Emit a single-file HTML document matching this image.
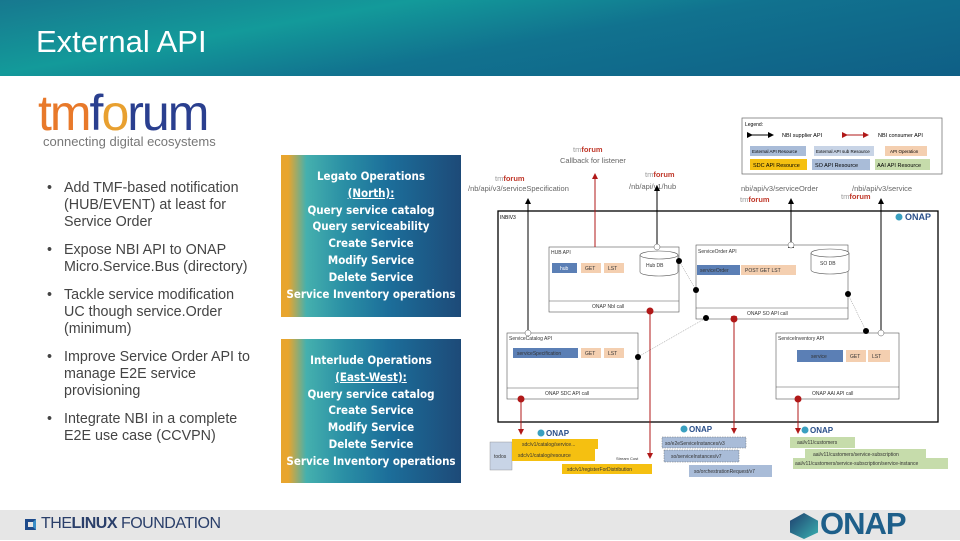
<!DOCTYPE html>
<html><head><meta charset="utf-8"><style>
*{margin:0;padding:0;box-sizing:border-box}
body{width:960px;height:540px;overflow:hidden;background:#fff;font-family:"Liberation Sans",sans-serif;position:relative}
.hdr{position:absolute;left:0;top:0;width:960px;height:76px;background:linear-gradient(170deg,#17788f 0%,#139a9a 30%,#11728f 55%,#0f5f86 100%)}
.hdr h1{position:absolute;left:36px;top:24px;font-weight:normal;color:#fff;font-size:31px}
.foot{position:absolute;left:0;top:510px;width:960px;height:30px;background:#e6e6e6}
ul{position:absolute;left:47px;top:180px;width:240px;list-style:none;font-size:14.3px;color:#444;line-height:17px;white-space:nowrap}
li{padding-left:17px;position:relative;margin-bottom:11px}
li:before{content:"•";position:absolute;left:0}
.gb{position:absolute;left:281px;width:180px;background:linear-gradient(90deg,#e8a52e 0%,#e8a52e 4%,#45b0ae 14%,#2a8fa5 35%,#1c6e9a 60%,#1d4a78 100%);color:#fff;font-family:"DejaVu Sans Condensed","Liberation Sans",sans-serif;font-weight:bold;font-size:11.5px;text-align:center;line-height:16.8px}
</style></head><body>
<div class="hdr"><h1>External API</h1></div>
<div style="position:absolute;left:38px;top:88px;font-size:50px;letter-spacing:-2px;line-height:50px"><span style="color:#e8792a">tm</span><span style="color:#2a3f8f">f<span style="color:#e8a030">o</span>rum</span></div>
<div style="position:absolute;left:43px;top:134px;font-size:13px;color:#777">connecting digital ecosystems</div>
<ul>
<li>Add TMF-based notification<br>(HUB/EVENT) at least for<br>Service Order</li>
<li>Expose NBI API to ONAP<br>Micro.Service.Bus (directory)</li>
<li>Tackle service modification<br>UC though service.Order<br>(minimum)</li>
<li>Improve Service Order API to<br>manage E2E service<br>provisioning</li>
<li>Integrate NBI in a complete<br>E2E use case (CCVPN)</li>
</ul>
<div class="gb" style="top:155px;height:162px;padding-top:13px">Legato Operations<br><u>(North):</u><br>Query service catalog<br>Query serviceability<br>Create Service<br>Modify Service<br>Delete Service<br>Service Inventory operations</div>
<div class="gb" style="top:339px;height:144px;padding-top:13px">Interlude Operations<br><u>(East-West):</u><br>Query service catalog<br>Create Service<br>Modify Service<br>Delete Service<br>Service Inventory operations</div>

<svg style="position:absolute;left:0;top:0" width="960" height="540" font-family="Liberation Sans,sans-serif">
<defs>
<marker id="ab" markerWidth="6" markerHeight="6" refX="5" refY="3" orient="auto"><path d="M0,0L6,3L0,6z" fill="#000"/></marker>
<marker id="ar" markerWidth="6" markerHeight="6" refX="5" refY="3" orient="auto"><path d="M0,0L6,3L0,6z" fill="#b01818"/></marker>
</defs>
<rect x="742" y="118" width="200" height="56" fill="#fff" stroke="#666" stroke-width="0.7"/>
<text x="745" y="126" font-size="5">Legend:</text>
<line x1="752" y1="135" x2="773" y2="135" stroke="#000" marker-end="url(#ab)" marker-start="url(#ab)"/>
<text x="782" y="137" font-size="5.5">NBI supplier API</text>
<line x1="847" y1="135" x2="868" y2="135" stroke="#b01818" marker-end="url(#ar)" marker-start="url(#ar)"/>
<text x="878" y="137" font-size="5.5">NBI consumer API</text>
<rect x="750" y="146" width="56" height="10" fill="#a9bcd8"/><text x="752" y="153" font-size="4.5">External API Resource</text>
<rect x="814" y="146" width="60" height="10" fill="#c8d4e6"/><text x="816" y="153" font-size="4.5">External API sub Resource</text>
<rect x="885" y="146" width="42" height="10" fill="#f4cfb0"/><text x="890" y="153" font-size="4.5">API Operation</text>
<rect x="750" y="159" width="57" height="11" fill="#f5c011"/><text x="753" y="167" font-size="5.5">SDC API Resource</text>
<rect x="812" y="159" width="58" height="11" fill="#a9bcd8"/><text x="815" y="167" font-size="5.5">SO API Resource</text>
<rect x="875" y="159" width="55" height="11" fill="#c6dcab"/><text x="877" y="167" font-size="5.5">AAI API Resource</text>
<g font-size="7.5" fill="#666">
<text x="495" y="181"><tspan fill="#999">tm</tspan><tspan fill="#c0392b" font-weight="bold">forum</tspan></text>
<text x="468" y="191">/nb/api/v3/serviceSpecification</text>
<text x="573" y="152"><tspan fill="#999">tm</tspan><tspan fill="#c0392b" font-weight="bold">forum</tspan></text>
<text x="560" y="163">Callback for listener</text>
<text x="645" y="177"><tspan fill="#999">tm</tspan><tspan fill="#c0392b" font-weight="bold">forum</tspan></text>
<text x="629" y="189">/nb/api/v1/hub</text>
<text x="741" y="191">nbi/api/v3/serviceOrder</text>
<text x="740" y="202"><tspan fill="#999">tm</tspan><tspan fill="#c0392b" font-weight="bold">forum</tspan></text>
<text x="852" y="191">/nbi/api/v3/service</text>
<text x="841" y="199"><tspan fill="#999">tm</tspan><tspan fill="#c0392b" font-weight="bold">forum</tspan></text>
</g>
<rect x="498" y="211" width="440" height="211" fill="none" stroke="#000" stroke-width="1.3"/>
<text x="500" y="219" font-size="5">INBIV3</text>
<text x="905" y="220" font-size="9" fill="#2a4f8a" font-weight="bold">ONAP</text><circle cx="899" cy="217" r="3.5" fill="#3aa0c0"/>
<g font-size="5" fill="#333">
<rect x="549" y="247" width="130" height="65" fill="#fff" stroke="#555" stroke-width="0.6"/><line x1="549" y1="301" x2="679" y2="301" stroke="#555" stroke-width="0.6"/>
<text x="551" y="254">HUB API</text><text x="592" y="308">ONAP NbI call</text>
<rect x="552" y="263" width="25" height="10" fill="#5b7fb5"/><text x="560" y="270" fill="#fff">hub</text>
<rect x="581" y="263" width="20" height="10" fill="#f4cfb0"/><text x="585" y="270">GET</text>
<rect x="604" y="263" width="20" height="10" fill="#f4cfb0"/><text x="608" y="270">LST</text>
<path d="M640,255v17a19,4 0 0 0 38,0v-17" fill="#fff" stroke="#555" stroke-width="0.6"/><ellipse cx="659" cy="255" rx="19" ry="4" fill="#fff" stroke="#555" stroke-width="0.6"/><text x="646" y="267">Hub DB</text>
<rect x="696" y="245" width="152" height="74" fill="#fff" stroke="#555" stroke-width="0.6"/><line x1="696" y1="308" x2="848" y2="308" stroke="#555" stroke-width="0.6"/>
<text x="698" y="253">ServiceOrder API</text><text x="747" y="315">ONAP SO API call</text>
<rect x="697" y="265" width="43" height="10" fill="#5b7fb5"/><text x="700" y="272">serviceOrder</text>
<rect x="741" y="265" width="55" height="10" fill="#f4cfb0"/><text x="745" y="272">POST   GET   LST</text>
<path d="M811,253v17a19,4 0 0 0 38,0v-17" fill="#fff" stroke="#555" stroke-width="0.6"/><ellipse cx="830" cy="253" rx="19" ry="4" fill="#fff" stroke="#555" stroke-width="0.6"/><text x="820" y="265">SO DB</text>
<rect x="507" y="333" width="131" height="66" fill="#fff" stroke="#555" stroke-width="0.6"/><line x1="507" y1="388" x2="638" y2="388" stroke="#555" stroke-width="0.6"/>
<text x="509" y="340">ServiceCatalog API</text><text x="545" y="395">ONAP SDC API call</text>
<rect x="513" y="348" width="65" height="10" fill="#5b7fb5"/><text x="517" y="355">serviceSpecification</text>
<rect x="581" y="348" width="20" height="10" fill="#f4cfb0"/><text x="585" y="355">GET</text>
<rect x="604" y="348" width="20" height="10" fill="#f4cfb0"/><text x="608" y="355">LST</text>
<rect x="776" y="333" width="123" height="66" fill="#fff" stroke="#555" stroke-width="0.6"/><line x1="776" y1="387" x2="899" y2="387" stroke="#555" stroke-width="0.6"/>
<text x="778" y="340">ServiceInventory API</text><text x="812" y="395">ONAP AAI API call</text>
<rect x="797" y="350" width="46" height="12" fill="#5b7fb5"/><text x="811" y="358">service</text>
<rect x="846" y="350" width="20" height="12" fill="#f4cfb0"/><text x="850" y="358">GET</text>
<rect x="868" y="350" width="22" height="12" fill="#f4cfb0"/><text x="872" y="358">LST</text>
</g>
<g stroke-width="1">
<line x1="528" y1="333" x2="528" y2="199" stroke="#000" marker-end="url(#ab)"/>
<line x1="657" y1="246" x2="657" y2="186" stroke="#000" marker-end="url(#ab)"/>
<line x1="791" y1="243" x2="791" y2="199" stroke="#000" marker-end="url(#ab)" marker-start="url(#ab)"/>
<line x1="881" y1="333" x2="881" y2="199" stroke="#000" marker-end="url(#ab)"/>
<line x1="595" y1="247" x2="595" y2="174" stroke="#b01818" marker-end="url(#ar)"/>
<line x1="650" y1="312" x2="650" y2="458" stroke="#b01818" marker-end="url(#ar)"/>
<line x1="734" y1="321" x2="734" y2="433" stroke="#b01818" marker-end="url(#ar)" marker-start="url(#ar)"/>
<line x1="521" y1="399" x2="521" y2="434" stroke="#b01818" marker-end="url(#ar)"/>
<line x1="798" y1="399" x2="798" y2="433" stroke="#b01818" marker-end="url(#ar)"/>
<g stroke="#555" stroke-width="0.4" stroke-dasharray="1,1"><line x1="679" y1="261" x2="696" y2="290"/><line x1="638" y1="357" x2="706" y2="318"/><line x1="848" y1="294" x2="866" y2="331"/></g>
</g>
<g fill="#000"><circle cx="679" cy="261" r="3"/><circle cx="696" cy="290" r="3"/><circle cx="638" cy="357" r="3"/><circle cx="706" cy="318" r="3"/><circle cx="848" cy="294" r="3"/><circle cx="866" cy="331" r="3"/></g>
<g fill="#fff" stroke="#555" stroke-width="0.5"><circle cx="657" cy="247" r="3"/><circle cx="791" cy="245" r="3"/><circle cx="528" cy="333" r="3"/><circle cx="881" cy="333" r="3"/></g>
<g fill="#b01818"><circle cx="650" cy="311" r="3.5"/><circle cx="734" cy="319" r="3.5"/><circle cx="521" cy="399" r="3.5"/><circle cx="798" cy="399" r="3.5"/></g>
<g font-size="5" fill="#333">
<text x="546" y="436" font-size="8" font-weight="bold" fill="#2a4f8a">ONAP</text><circle cx="541" cy="433" r="3.5" fill="#3aa0c0"/>
<text x="689" y="432" font-size="8" font-weight="bold" fill="#2a4f8a">ONAP</text><circle cx="684" cy="429" r="3.5" fill="#3aa0c0"/>
<text x="810" y="433" font-size="8" font-weight="bold" fill="#2a4f8a">ONAP</text><circle cx="805" cy="430" r="3.5" fill="#3aa0c0"/>
<rect x="490" y="442" width="22" height="28" fill="#c8d4e6" stroke="#888" stroke-width="0.4"/><text x="494" y="458">todos</text>
<rect x="512" y="439" width="86" height="10" fill="#f5c011"/><text x="522" y="446">sdc/v1/catalog/service...</text>
<rect x="512" y="449" width="83" height="12" fill="#f5c011"/><text x="518" y="457">sdc/v1/catalog/resource</text>
<rect x="562" y="464" width="90" height="10" fill="#f5c011"/><text x="567" y="471">sdc/v1/registerForDistribution</text>
<text x="616" y="460" font-size="4">Stream Cost</text>
<rect x="662" y="437" width="84" height="11" fill="#a9bcd8" stroke="#555" stroke-width="0.4" stroke-dasharray="1.5,1"/><text x="665" y="445">so/e2eServiceInstances/v3</text>
<rect x="664" y="450" width="75" height="12" fill="#a9bcd8" stroke="#555" stroke-width="0.4" stroke-dasharray="1.5,1"/><text x="671" y="458">so/serviceInstances/v7</text>
<rect x="689" y="465" width="83" height="12" fill="#a9bcd8"/><text x="694" y="473">so/orchestrationRequest/v7</text>
<rect x="790" y="437" width="65" height="11" fill="#c6dcab"/><text x="797" y="444">aai/v11/customers</text>
<rect x="805" y="449" width="121" height="10" fill="#c6dcab"/><text x="813" y="456">aai/v11/customers/service-subscription</text>
<rect x="793" y="458" width="155" height="11" fill="#c6dcab"/><text x="795" y="465">aai/v11/customers/service-subscription/service-instance</text>
</g>
</svg>
<div class="foot"></div>
<div style="position:absolute;left:25px;top:519px;width:11px;height:11px;border:3px solid #1e4a8a;border-right-color:#3a8ec8"></div>
<div style="position:absolute;left:41px;top:515px;font-size:16px;color:#2a3f6a;letter-spacing:-0.5px">THE<b style="font-weight:900">LINUX</b> FOUNDATION</div>
<div style="position:absolute;left:790px;top:513px;width:28px;height:26px;background:linear-gradient(135deg,#1e3f6e,#3ab0b0);clip-path:polygon(50% 0,100% 30%,100% 75%,50% 100%,0 75%,0 30%)"></div>
<div style="position:absolute;left:820px;top:507px;font-size:31px;font-weight:bold;color:#1e5f8a;letter-spacing:-1px;line-height:34px">ONAP</div>
</body></html>
